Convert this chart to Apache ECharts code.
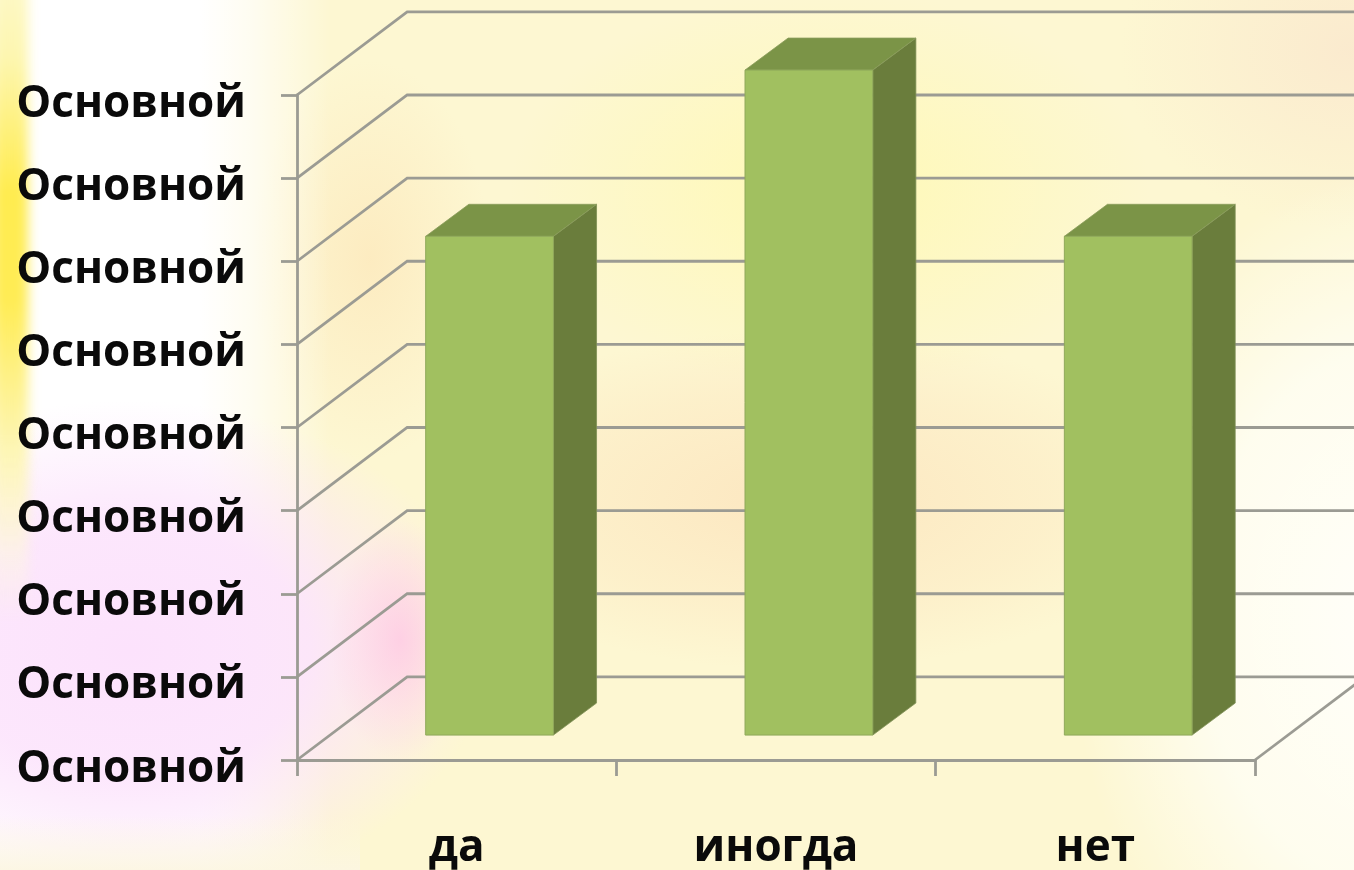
<!DOCTYPE html>
<html>
<head>
<meta charset="utf-8">
<script src="https://cdn.jsdelivr.net/npm/echarts@6/dist/echarts.min.js"></script>
<style>
html,body{margin:0;padding:0;width:1354px;height:870px;overflow:hidden}
body{
position:relative;
background:
 radial-gradient(ellipse 70px 120px at 400px 640px, rgba(255,195,228,.7), rgba(255,205,232,.35) 60%, rgba(255,205,232,0) 100%),
 radial-gradient(ellipse 360px 250px at 130px 650px, rgba(252,226,252,1), rgba(252,228,252,.9) 50%, rgba(252,230,250,0) 100%),
 linear-gradient(90deg, #fff 0, #fff 200px, rgba(255,255,255,.7) 250px, rgba(255,255,255,0) 330px),
 radial-gradient(ellipse 330px 450px at 1400px 620px, rgba(255,255,250,1), rgba(255,255,248,.75) 60%, rgba(255,255,245,0) 100%),
 radial-gradient(ellipse 230px 180px at 1350px 50px, rgba(250,230,205,.75), rgba(250,230,205,0) 100%),
 radial-gradient(ellipse 380px 170px at 800px 500px, rgba(252,224,185,.7), rgba(252,224,185,.3) 65%, rgba(252,224,185,0) 100%),
 radial-gradient(ellipse 120px 200px at 370px 260px, rgba(252,226,178,.55), rgba(252,226,178,0) 100%),
 radial-gradient(ellipse 320px 200px at 830px 190px, rgba(255,250,170,.7), rgba(255,250,170,0) 100%),
 #fdf7d2;
}
#strip{position:absolute;left:-8px;top:-20px;width:36px;height:640px;filter:blur(6px);
background:linear-gradient(180deg,#fdf8c8 0,#fdf6b0 12%,#ffec50 33%,#ffec55 50%,#fdf5b0 72%,rgba(253,248,220,.5) 90%,rgba(253,248,220,0) 100%)}
#bottom{position:absolute;left:0;top:815px;width:360px;height:55px;
background:linear-gradient(180deg,rgba(252,246,225,0),rgba(252,246,225,.9))}
#chart{position:absolute;left:0;top:0;width:1354px;height:870px}
</style>
</head>
<body>
<div id="strip"></div>
<div id="bottom"></div>
<div id="chart"></div>
<script>
const categories = ['да', 'иногда', 'нет'];
const seriesValues = [6, 8, 6];
const yTickValues = [0, 1, 2, 3, 4, 5, 6, 7, 8];
const yTickLabels = ['Основной', 'Основной', 'Основной', 'Основной', 'Основной', 'Основной', 'Основной', 'Основной', 'Основной'];

const chart = echarts.init(document.getElementById('chart'), null, {renderer: 'canvas'});
const lineColor = '#9b9b93';
const wallDepth = 0.345;   // back wall x-offset, share of a category band
const barWidth = 0.40;     // bar front width, share of a category band
const barShiftX = 0.103;   // bar front shift to the right
const barShiftY = 0.30;    // bar front shift upward, in value units
const barDepthX = 0.135;   // bar side x-extent, share of a band
const barDepthY = 0.385;   // bar side y-extent, in value units

function renderWall(params, api) {
  const v = api.value(0);
  const sys = params.coordSys;
  const y = api.coord([0, v])[1];
  const size = api.size([1, 1]);
  const dx = size[0] * wallDepth, dy = size[1];
  const left = sys.x, right = sys.x + sys.width;
  const children = [{
    type: 'polyline',
    shape: {points: [[left, y], [left + dx, y - dy], [right + dx, y - dy]]},
    style: {stroke: lineColor, lineWidth: 2.8, fill: null}
  }];
  if (v === 0) {
    children.push({
      type: 'line',
      shape: {x1: right, y1: y, x2: right + dx, y2: y - dy},
      style: {stroke: lineColor, lineWidth: 2.8}
    });
  }
  return {type: 'group', children};
}

function renderBar(params, api) {
  const top = api.coord([api.value(0), api.value(1)]);
  const base = api.coord([api.value(0), 0]);
  const size = api.size([1, 1]);
  const w = size[0] * barWidth;
  const sx = size[0] * barShiftX, sy = size[1] * barShiftY;
  const ddx = size[0] * barDepthX, ddy = size[1] * barDepthY;
  const x0 = top[0] - w / 2 + sx, x1 = x0 + w;
  const y0 = top[1] - sy, y1 = base[1] - sy;
  return {
    type: 'group',
    children: [
      {type: 'polygon',
       shape: {points: [[x1, y0], [x1 + ddx, y0 - ddy], [x1 + ddx, y1 - ddy], [x1, y1]]},
       style: {fill: '#6a7d3c', stroke: '#7f8f55', lineWidth: 0.8}},
      {type: 'polygon',
       shape: {points: [[x0, y0], [x0 + ddx, y0 - ddy], [x1 + ddx, y0 - ddy], [x1, y0]]},
       style: {fill: '#7b9447', stroke: '#8a9c5c', lineWidth: 0.8}},
      {type: 'rect',
       shape: {x: x0, y: y0, width: w, height: y1 - y0},
       style: {fill: '#a1c060', stroke: '#8fa85a', lineWidth: 1}}
    ]
  };
}

const labelFont = {
  fontFamily: '"Open Sans", "Noto Sans", sans-serif',
  fontWeight: 700,
  color: '#0a0a0a'
};

chart.setOption({
  animation: false,
  backgroundColor: 'transparent',
  grid: {left: 297, top: 95, width: 958, height: 665, containLabel: false, outerBoundsMode: 'none'},
  xAxis: {
    type: 'category',
    data: categories,
    boundaryGap: true,
    axisLine: {show: true, lineStyle: {color: lineColor, width: 2.8}},
    axisTick: {show: true, alignWithLabel: false, length: 16, lineStyle: {color: lineColor, width: 2.8}},
    axisLabel: Object.assign({fontSize: 44, margin: 63, lineHeight: 50}, labelFont),
    splitLine: {show: false}
  },
  yAxis: {
    type: 'value',
    min: 0,
    max: 8,
    interval: 1,
    axisLine: {show: true, lineStyle: {color: lineColor, width: 2.8}},
    axisTick: {show: true, length: 16, lineStyle: {color: lineColor, width: 2.8}},
    axisLabel: Object.assign({
      fontSize: 44, margin: 51, lineHeight: 18, verticalAlign: 'top',
      formatter: function (value, index) { return yTickLabels[index]; }
    }, labelFont),
    splitLine: {show: false}
  },
  series: [
    {
      type: 'custom',
      name: 'wall',
      coordinateSystem: 'cartesian2d',
      clip: false,
      silent: true,
      z: 1,
      encode: {y: 0},
      data: yTickValues.map(v => [v]),
      renderItem: renderWall
    },
    {
      type: 'custom',
      name: 'bars',
      coordinateSystem: 'cartesian2d',
      clip: false,
      z: 3,
      encode: {x: 0, y: 1},
      data: seriesValues.map((v, i) => [i, v]),
      renderItem: renderBar
    }
  ]
});
</script>
</body>
</html>
